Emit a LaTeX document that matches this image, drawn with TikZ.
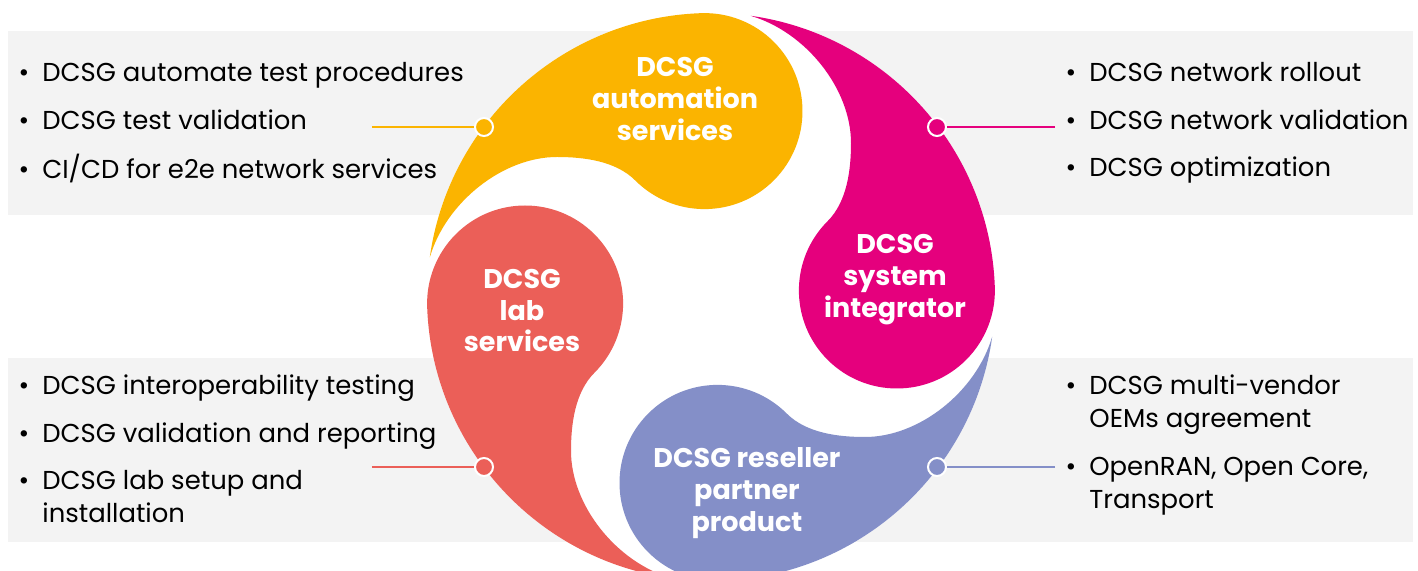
\documentclass[tikz,border=0pt]{standalone}
\usepackage{fontspec}
\setmainfont{Poppins}
\usepackage{tikz}
\definecolor{autoorange}{HTML}{FBB400}
\definecolor{sysmagenta}{HTML}{E5007D}
\definecolor{labred}{HTML}{EB5F58}
\definecolor{resellblue}{HTML}{848FC8}
\definecolor{panelgray}{HTML}{F3F3F3}

\begin{document}
\begin{tikzpicture}[x=0.5pt,y=0.5pt,
  dot/.style={circle,draw=white,line width=1pt,minimum size=9pt,inner sep=0pt},
  title/.style={text=white,font=\fontsize{13.5}{16}\selectfont\bfseries,align=center},
  items/.style={anchor=base west,inner sep=0pt,font=\fontsize{12.95}{16.5}\selectfont},
  link/.style={line width=1pt}]
 \useasboundingbox (-711,-274) rectangle (707,297);
 % grey bands
 \fill[panelgray] (-703,82) rectangle (702,266);
 \fill[panelgray] (-703,-245) rectangle (702,-61);
 \fill[white] (0,0) circle[radius=284];
 % the four swirls
 \foreach \rot/\col in {0/autoorange,-90/sysmagenta,180/resellblue,90/labred}
   \fill[\col,rotate=\rot] (92:284) arc[start angle=92,end angle=172,radius=284]
     .. controls (-265,95) and (-208,140) .. (-154,140)
     .. controls (-128,140) and (-95.6,136.4) .. (-75.8,116.6)
     arc[start angle=225,end angle=452,radius=98] -- cycle;

 \node[title] (autotitle) at (-36,197.5) {DCSG\\automation\\services};
 \node[title] (systitle) at (184,17.5) {DCSG\\system\\integrator};
 \node[title] (labtitle) at (-189,-13.5) {DCSG\\lab\\services};
 \node[title] (reselltitle) at (36,-196.5) {DCSG reseller\\partner\\product};

 \node[dot,fill=autoorange] (autodot) at (-227,170) {};
 \node[dot,fill=sysmagenta] (sysdot) at (226,170) {};
 \node[dot,fill=labred] (labdot) at (-227,-170) {};
 \node[dot,fill=resellblue] (reselldot) at (226,-170) {};
 \coordinate (autoend) at (-339,170);
 \coordinate (sysend) at (344,170);
 \coordinate (labend) at (-339,-170);
 \coordinate (resellend) at (344,-170);
 \draw[link,autoorange] (autoend) -- (autodot);
 \draw[link,sysmagenta] (sysend) -- (sysdot);
 \draw[link,labred] (labend) -- (labdot);
 \draw[link,resellblue] (resellend) -- (reselldot);

 \node[items] (autolist) at (-669,215) {\begin{tabular}[t]{@{}l@{}}
   \llap{\textbullet\hspace{6.5pt}}DCSG automate test procedures\\[7.25pt]
   \llap{\textbullet\hspace{6.5pt}}DCSG test validation\\[7.25pt]
   \llap{\textbullet\hspace{6.5pt}}CI/CD for e2e network services\end{tabular}};
 \node[items] (syslist) at (378,215) {\begin{tabular}[t]{@{}l@{}}
   \llap{\textbullet\hspace{6.5pt}}DCSG network rollout\\[7.25pt]
   \llap{\textbullet\hspace{6.5pt}}DCSG network validation\\[7.25pt]
   \llap{\textbullet\hspace{6.5pt}}DCSG optimization\end{tabular}};
 \node[items] (lablist) at (-669,-98) {\begin{tabular}[t]{@{}l@{}}
   \llap{\textbullet\hspace{6.5pt}}DCSG interoperability testing\\[7.25pt]
   \llap{\textbullet\hspace{6.5pt}}DCSG validation and reporting\\[7.25pt]
   \llap{\textbullet\hspace{6.5pt}}DCSG lab setup and\\
   installation\end{tabular}};
 \node[items] (reselllist) at (378,-98) {\begin{tabular}[t]{@{}l@{}}
   \llap{\textbullet\hspace{6.5pt}}DCSG multi-vendor\\
   OEMs agreement\\[7.25pt]
   \llap{\textbullet\hspace{6.5pt}}OpenRAN, Open Core,\\
   Transport\end{tabular}};
\end{tikzpicture}
\end{document}
